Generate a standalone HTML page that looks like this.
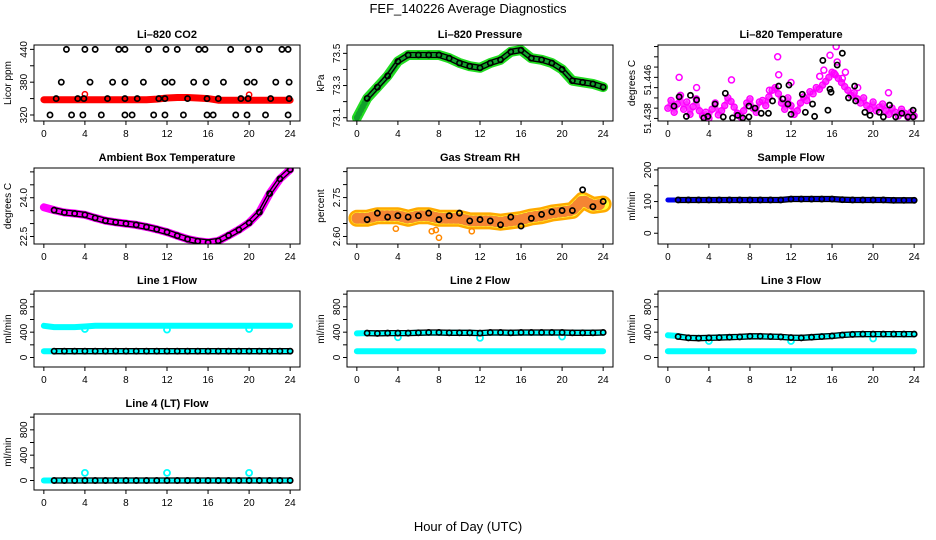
<!DOCTYPE html>
<html><head><meta charset="utf-8"><style>
html,body{margin:0;padding:0;background:#fff}
svg{display:block;font-family:"Liberation Sans",sans-serif}
</style></head><body>
<svg id="c" width="936" height="540" viewBox="0 0 936 540" xmlns="http://www.w3.org/2000/svg">
<text x="468" y="13" font-size="13" text-anchor="middle">FEF_140226  Average Diagnostics</text>
<text x="468" y="531" font-size="13" text-anchor="middle">Hour of Day (UTC)</text>
</svg>
<script>
const hours = [0,1,2,3,4,5,6,7,8,9,10,11,12,13,14,15,16,17,18,19,20,21,22,23,24];
const xTickLabels = ["0","4","8","12","16","20","24"];
// CO2
const co2Red = [348,348,348,348,348,348,348,348,348,348,348,349,351,352,352,351,350,347,347,347,347,347,347,347,347];
const co2BlackX = [1.2,3.3,3.9,6.2,7.9,9.1,11.2,11.8,14,15.9,17,19.2,19.9,22.1,23.9, 2.2,4,5,7.3,7.9,10.2,11.9,13,15.1,15.7,18.2,19.9,21,23.2,23.8, 1.7,4.5,6.7,7.9,9.7,11.8,12.5,14.6,15.8,17.5,19.8,20.5,22.6,23.9, 0.6,2.7,3.8,5.6,7.9,8.6,10.7,11.8,13.6,15.9,16.5,18.7,19.8,21.6,23.8];
const co2BlackY = [350,350,350,350,350,350,350,350,350,350,350,350,350,350,350, 440,440,440,440,440,440,440,440,440,440,440,440,440,440,440, 380,380,380,380,380,380,380,380,380,380,380,380,380,380, 320,320,320,320,320,320,320,320,320,320,320,320,320,320,320];
const co2OutX = [4,20], co2OutY = [358,357];
// Pressure
const pres = [73.10,73.22,73.29,73.36,73.45,73.49,73.49,73.49,73.49,73.47,73.44,73.42,73.41,73.44,73.46,73.51,73.52,73.47,73.46,73.44,73.40,73.33,73.32,73.31,73.29];
// Li-820 temperature
const tempMag = [51.4400,51.4415,51.4392,51.4408,51.4425,51.4398,51.4412,51.4388,51.4403,51.4418,51.4395,
51.4385,51.4392,51.4380,51.4398,51.4410,51.4387,51.4395,51.4405,51.4420,51.4413,
51.4402,51.4390,51.4383,51.4395,51.4410,51.4418,51.4400,51.4392,51.4412,
51.4415,51.4405,51.4422,51.4435,51.4440,51.4428,51.4410,51.4398,51.4420,51.4405,
51.4388,51.4395,51.4410,51.4422,51.4415,51.4432,51.4428,51.4440,51.4437,
51.4445,51.4452,51.4460,51.4470,51.4465,51.4458,51.4450,51.4442,51.4435,51.4425,
51.4430,51.4418,51.4410,51.4420,51.4405,51.4398,51.4412,51.4395,51.4402,
51.4408,51.4395,51.4388,51.4400,51.4392,51.4385,51.4398,51.4390,51.4383,51.4392,51.4385];
const tempOutX = [1.1,2.8,6.2,10.7,10.8,12,15.2,15.8,16.4,16.5,17.3,21.5,17,16.2,14.8,18.5,9.9];
const tempOutY = [51.4460,51.4440,51.4455,51.4500,51.4465,51.4450,51.4474,51.4503,51.4520,51.4490,51.4470,51.4430,51.4458,51.4468,51.4462,51.4440,51.4435];
const tempBlkX = [0.6,1.1,1.8,2.2,2.8,3.5,3.9,4.6,5.4,5.6,6.3,6.8,7.3,7.9,7.9,8.5,9.1,9.8,10.2,10.8,11.2,11.7,11.8,12,13.1,13.4,14.1,14.3,15.1,15.6,15.8,15.9,16.5,17,17.6,18.2,18.3,19.2,19.7,20.6,21,21.6,22.2,22.8,23.4,23.9,23.9];
const tempBlkY = [51.4404,51.4422,51.4384,51.4425,51.4416,51.4381,51.4384,51.4408,51.4383,51.4429,51.4381,51.4386,51.4381,51.4383,51.4404,51.4400,51.4390,51.4390,51.4414,51.4443,51.4418,51.4408,51.4445,51.4388,51.4427,51.4392,51.4408,51.4384,51.4493,51.4396,51.4437,51.4431,51.4484,51.4507,51.4420,51.4443,51.4414,51.4392,51.4386,51.4392,51.4383,51.4406,51.4383,51.4390,51.4383,51.4396,51.4383];
// Ambient box temperature
const ambient = [23.63,23.52,23.43,23.39,23.34,23.22,23.11,23.05,23.00,22.95,22.87,22.78,22.67,22.53,22.40,22.32,22.27,22.33,22.54,22.76,23.03,23.44,24.16,24.73,25.09];
// Gas stream RH
const rhBand = [2.67,2.67,2.68,2.68,2.68,2.67,2.68,2.68,2.67,2.67,2.67,2.66,2.66,2.66,2.655,2.66,2.665,2.675,2.68,2.69,2.695,2.70,2.74,2.72,2.725];
const rhBlk = [2.665,2.665,2.69,2.675,2.68,2.675,2.68,2.69,2.665,2.68,2.69,2.66,2.665,2.66,2.645,2.675,2.64,2.67,2.685,2.695,2.70,2.70,2.78,2.715,2.735];
const rhOutX = [7.3,7.7,8,3.8,11.2], rhOutY = [2.62,2.625,2.595,2.63,2.62];
// Sample flow
const sample = [105,105,105,105,105,105,105,105,105,105,105,105,108,108,108,108,108,106,105,105,105,105,104,104,104];
// Line flows
const l1Top = [500,480,480,480,490,500,500,500,500,500,500,500,500,500,500,500,500,500,500,500,500,500,500,500,500];
const l1Bot = [100,100,100,100,100,100,100,100,100,100,100,100,100,100,100,100,100,100,100,100,100,100,100,100,100];
const l1Blk = [100,100,100,100,100,100,100,100,100,100,100,100,100,100,100,100,100,100,100,100,100,100,100,100,100];
const l1OutY = [450,440,450];
const l2Top = [380,385,380,385,385,385,390,390,390,390,390,390,385,390,390,390,390,390,390,390,390,390,390,390,390];
const l2Bot = [100,100,100,100,100,100,100,100,100,100,100,100,100,100,100,100,100,100,100,100,100,100,100,100,100];
const l2Blk = [390,385,380,385,385,385,390,395,395,390,390,390,385,395,395,390,395,395,395,395,395,390,390,390,395];
const l2OutY = [320,310,330];
const l3Top = [350,340,310,310,310,320,320,325,330,330,330,325,310,315,320,335,340,355,365,365,365,365,365,365,365];
const l3Bot = [100,100,100,100,100,100,100,100,100,100,100,100,100,100,100,100,100,100,100,100,100,100,100,100,100];
const l3Blk = [350,330,310,305,310,315,320,325,335,335,330,325,315,310,320,330,340,355,365,370,370,370,370,370,370];
const l3OutY = [260,260,300];
const l4Top = [0,0,0,0,0,0,0,0,0,0,0,0,0,0,0,0,0,0,0,0,0,0,0,0,0];
const l4Blk = [0,0,0,0,0,0,0,0,0,0,0,0,0,0,0,0,0,0,0,0,0,0,0,0,0];
const l4OutY = [120,120,120];
const outHours = [4,12,20];

const NS = "http://www.w3.org/2000/svg";
const svg = document.getElementById('c');
const BW = 266, BH = 76;
function mk(tag, attrs, parent){const e=document.createElementNS(NS,tag);for(const k in attrs)e.setAttribute(k,attrs[k]);(parent||svg).appendChild(e);return e;}

function makePanel(name,title,bx,by,ymin,ymax,yticks,ylabels,ylab){
  const g = mk('g',{});
  
  
  const p={g,bx,by,ymin,ymax};
  p.sx=v=>bx+(v+0.96)/25.92*BW;
  p.sy=v=>by+BH-(v-ymin)/(ymax-ymin)*BH;
  const t=mk('text',{x:bx+BW/2,y:by-7,'font-size':11,'font-weight':'bold','text-anchor':'middle'},g);
  t.textContent=title;
  
  
  for(let i=0;i<=6;i++){
    const x=p.sx(i*4);
    mk('line',{x1:x,x2:x,y1:by+BH,y2:by+BH+4,stroke:'#000','stroke-width':1},g);
    const tl=mk('text',{x:x,y:by+BH+16,'font-size':10,'text-anchor':'middle'},g);
    tl.textContent=xTickLabels[i];
    
    
  }
  mk('line',{x1:p.sx(0),x2:p.sx(24),y1:by+BH,y2:by+BH,stroke:'#000'},g);
  yticks.forEach(v=>{const y=p.sy(v);mk('line',{x1:bx-4,x2:bx,y1:y,y2:y,stroke:'#000'},g);});
  ylabels.forEach(l=>{
    const y=p.sy(l[0]);
    const tl=mk('text',{x:bx-7,y:y,'font-size':10,'text-anchor':'middle',transform:`rotate(-90 ${bx-7} ${y})`},g);
    tl.textContent=l[1];
    
    
  });
  const yl=mk('text',{x:bx-23,y:by+BH/2,'font-size':10,'text-anchor':'middle',transform:`rotate(-90 ${bx-23} ${by+BH/2})`},g);
  yl.textContent=ylab;
  
  
  const cp=mk('clipPath',{id:'cp'+name},g);
  mk('rect',{x:bx,y:by,width:BW,height:BH},cp);
  p.plot=mk('g',{'clip-path':`url(#cp${name})`},g);
  p.box=()=>mk('rect',{x:bx,y:by,width:BW,height:BH,fill:'none',stroke:'#000','stroke-width':1},g);
  return p;
}
function band(p,xs,ys,color,w,extra){
  const pts=xs.map((x,i)=>p.sx(x).toFixed(1)+','+p.sy(ys[i]).toFixed(1)).join(' ');
  const e=mk('polyline',Object.assign({points:pts,fill:'none',stroke:color,'stroke-width':w,'stroke-linejoin':'round','stroke-linecap':'round'},extra||{}),p.plot);
  
  
}
function dots(p,xs,ys,color,r,sw){
  xs.forEach((x,i)=>{
    const c=mk('circle',{cx:p.sx(x),cy:p.sy(ys[i]),r:r||2.6,fill:'none',stroke:color,'stroke-width':sw||1.5},p.plot);
    
    
  });
}
function chain(p,xs,ys){
  [-2.5,2.5].forEach(o=>{
    const pts=xs.map((x,i)=>p.sx(x).toFixed(1)+','+(p.sy(ys[i])+o).toFixed(1)).join(' ');
    mk('polyline',{points:pts,fill:'none',stroke:'#000','stroke-width':1.3},p.plot);
  });
  dots(p,xs,ys,'#000',2.6,1.7);
}
const cols=[34,347,658], rows=[45,168,291,414];
const flowTicks=[0,200,400,600,800,1000], flowLabels=[[0,'0'],[400,'400'],[800,'800']];

let p=makePanel('co2-panel','Li\u2013820 CO2',cols[0],rows[0],309,448,[320,350,380,410,440],[[320,'320'],[380,'380'],[440,'440']],'Licor ppm');
band(p,hours,co2Red,'#f00',7);
dots(p,co2OutX,co2OutY,'#f00');
dots(p,co2BlackX,co2BlackY,'#000',2.6,1.7);
p.box();

p=makePanel('pressure-panel','Li\u2013820 Pressure',cols[1],rows[0],73.0795,73.552,[73.1,73.2,73.3,73.4,73.5],[[73.1,'73.1'],[73.3,'73.3'],[73.5,'73.5']],'kPa');
band(p,hours,pres,'#2d2',10);
band(p,hours,pres,'#063',6,{'stroke-dasharray':'1 3',opacity:0.5});
chain(p,hours.slice(1),pres.slice(1));
p.box();

p=makePanel('li820-temp-panel','Li\u2013820 Temperature',cols[2],rows[0],51.4375,51.4523,[51.438,51.440,51.442,51.444,51.446,51.448,51.450,51.452],[[51.438,'51.438'],[51.4455,'51.446']],'degrees C');
band(p,tempMag.map((v,i)=>i*24/78),tempMag,'#f0f',4,{opacity:0.8});
dots(p,tempMag.map((v,i)=>i*24/78),tempMag,'#f0f',3,1.5);
dots(p,tempOutX,tempOutY,'#f0f',3,1.5);
dots(p,tempBlkX,tempBlkY,'#000',2.6,1.7);
p.box();

p=makePanel('ambient-temp-panel','Ambient Box Temperature',cols[0],rows[1],22.21,25.15,[22.5,23.0,23.5,24.0,24.5,25.0],[[22.5,'22.5'],[24.0,'24.0']],'degrees C');
band(p,hours,ambient,'#f0f',8);
chain(p,hours.slice(1),ambient.slice(1));
p.box();

p=makePanel('rh-panel','Gas Stream RH',cols[1],rows[1],2.571,2.864,[2.60,2.65,2.70,2.75,2.80,2.85],[[2.60,'2.60'],[2.75,'2.75']],'percent');
band(p,hours,rhBand,'#fa0',17);
band(p,hours,rhBand,'#ff3',12);
band(p,hours,rhBand,'#e33',11,{'stroke-dasharray':'1 4',opacity:0.6});
dots(p,rhOutX,rhOutY,'#f80',2.6,1.5);
dots(p,hours.slice(1),rhBlk.slice(1),'#000',2.6,1.7);
p.box();

p=makePanel('sample-flow-panel','Sample Flow',cols[2],rows[1],-34,206,[0,50,100,150,200],[[0,'0'],[100,'100'],[200,'200']],'ml/min');
band(p,hours,sample,'#00e',5);
chain(p,hours.slice(1),sample.slice(1));
p.box();

p=makePanel('line1-flow-panel','Line 1 Flow',cols[0],rows[2],-150,1050,flowTicks,flowLabels,'ml/min');
band(p,hours,l1Top,'#0ff',6);band(p,hours,l1Bot,'#0ff',6);
dots(p,outHours,l1OutY,'#0ff',3,1.8);
chain(p,hours.slice(1),l1Blk.slice(1));
p.box();

p=makePanel('line2-flow-panel','Line 2 Flow',cols[1],rows[2],-150,1050,flowTicks,flowLabels,'ml/min');
band(p,hours,l2Top,'#0ff',6);band(p,hours,l2Bot,'#0ff',6);
dots(p,outHours,l2OutY,'#0ff',3,1.8);
chain(p,hours.slice(1),l2Blk.slice(1));
p.box();

p=makePanel('line3-flow-panel','Line 3 Flow',cols[2],rows[2],-150,1050,flowTicks,flowLabels,'ml/min');
band(p,hours,l3Top,'#0ff',6);band(p,hours,l3Bot,'#0ff',6);
dots(p,outHours,l3OutY,'#0ff',3,1.8);
chain(p,hours.slice(1),l3Blk.slice(1));
p.box();

p=makePanel('line4-flow-panel','Line 4 (LT) Flow',cols[0],rows[3],-150,1050,flowTicks,flowLabels,'ml/min');
band(p,hours,l4Top,'#0ff',6);
dots(p,outHours,l4OutY,'#0ff',3,1.8);
chain(p,hours.slice(1),l4Blk.slice(1));
p.box();
</script>
</body></html>
